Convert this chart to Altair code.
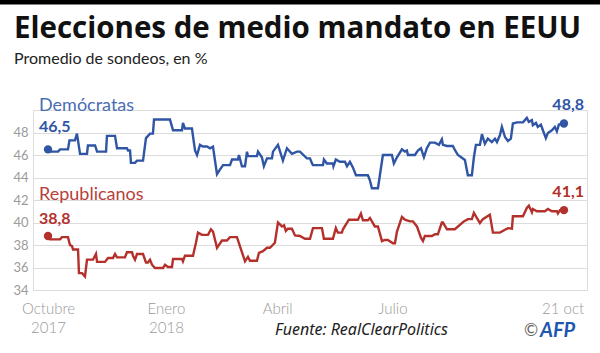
import altair as alt
import pandas as pd

# Days since the first poll (Octubre 2017 -> 21 oct 2018)
dem_day = [0, 1.5, 7.5, 9, 14.9, 16, 20.1, 21.6, 23.9, 29.1, 29.8, 35.1, 36.6, 43.3, 44, 50, 51.5,
           58.9, 59.7, 61.2, 61.9, 64.9, 66.4, 70.9, 73.1, 76.1, 78.3, 79.1, 91, 93.3, 100, 100.7,
           102.2, 107.4, 109.7, 111.2, 113.4, 115.6, 118.6, 120.9, 123.1, 126.1, 128.3, 130.6, 135.8,
           137.3, 141.7, 142.5, 144.7, 147, 148.5, 149.2, 155.9, 156.7, 159.6, 161.1, 163.4, 167.1,
           167.9, 171.6, 175.3, 178.3, 182, 185.8, 188, 193.2, 195.5, 197, 197.7, 205.2, 205.9,
           208.1, 212.6, 213, 214.8, 217.8, 221.6, 223.1, 225.3, 227.5, 229.8, 238.7, 240.2, 241.7,
           246.2, 249.9, 256.6, 258.1, 260.4, 264.1, 266.3, 267.8, 268.6, 273.8, 276, 278.3, 280.5,
           282.7, 285, 288.7, 291.7, 293.9, 294.7, 297.7, 302.1, 303.6, 305.9, 311.1, 313.3, 316.3,
           317.8, 319.3, 322.3, 323.8, 326, 328.2, 331.2, 333.5, 335, 337.2, 338.7, 341, 343.2,
           345.4, 346.9, 349.9, 354.4, 357.3, 358.8, 361.1, 361.8, 364.1, 365.5, 367.8, 369.3,
           371.5, 373, 376, 378.2, 379.7, 381.2, 385]
dem_val = [46.5, 46.3, 46.3, 46.5, 46.5, 47.3, 47.3, 47.9, 46.1, 46.1, 46.85, 46.85, 46.3, 46.3, 47.7,
           47.7, 46.6, 46.6, 46.4, 46.4, 45.3, 45.3, 45.5, 45.5, 47.5, 47.9, 47.9, 49.15, 49.15, 48.2,
           48.2, 48.85, 48.35, 48.35, 46.4, 46.0, 46.9, 46.75, 46.75, 46.6, 46.75, 44.3, 44.7, 45.1,
           45.1, 45.6, 45.6, 46.0, 45.0, 45.0, 46.3, 45.9, 45.9, 46.3, 45.8, 45.0, 45.7, 45.7, 46.3,
           46.9, 45.5, 46.6, 46.1, 46.3, 46.3, 45.7, 45.7, 45.25, 45.1, 45.1, 45.6, 45.25, 45.25,
           45.0, 45.6, 45.4, 45.4, 45.0, 45.4, 44.9, 44.2, 44.2, 43.75, 43.05, 43.05, 46.0, 46.0,
           45.25, 45.8, 46.5, 46.3, 46.4, 46.0, 46.0, 46.4, 46.6, 45.8, 46.6, 47.1, 47.1, 46.9, 47.4,
           46.9, 46.8, 46.8, 46.45, 46.0, 45.55, 44.2, 44.2, 45.8, 46.9, 46.9, 47.85, 47.0, 47.45,
           47.15, 47.45, 47.15, 47.75, 48.5, 47.6, 47.25, 47.45, 48.8, 48.9, 48.9, 49.3, 48.95,
           49.1, 48.65, 48.85, 48.5, 48.7, 48.2, 47.5, 47.95, 48.2, 48.5, 48.1, 48.7, 48.8]

rep_day = [0, 1.5, 9, 10.4, 14.9, 16.4, 17.9, 18.7, 22.4, 23.1, 25.4, 27.6, 29.1, 33.6, 35.8, 36.6,
           42.5, 44.8, 48.5, 50, 51.5, 57.4, 58.9, 62.7, 63.4, 64.9, 66.4, 70.9, 73.1, 74.6, 76.1,
           77.6, 79.8, 85.8, 87.3, 89.5, 92.5, 93.3, 100, 100.7, 102.2, 108.2, 110.4, 111.9, 114.9,
           119.4, 121.6, 123.1, 126.1, 129.8, 133.5, 135.8, 141, 143.2, 147, 149.2, 150.7, 155.9,
           157.4, 160.4, 163.4, 165.6, 169.3, 171.6, 174.6, 176.1, 177.5, 179, 182, 184.3, 188,
           191.7, 195.5, 197.7, 204.4, 205.9, 212.6, 214.8, 216.3, 219.3, 220.1, 224.5, 231.3,
           233.5, 235, 238.7, 240.2, 243.9, 246.2, 249.2, 251.4, 253.6, 257.4, 258.9, 260.4, 264.1,
           266.3, 270.1, 272.3, 275.3, 278.3, 279.8, 281.2, 286.5, 288.7, 290.9, 293.9, 294.7,
           297.7, 303.6, 310.3, 313.3, 316.3, 317.8, 322.3, 324.5, 329.7, 332, 337.2, 341, 343.2,
           346.2, 346.9, 354.4, 357.3, 358.8, 361.1, 361.8, 364.8, 370.8, 373, 376, 379.7, 380.5,
           382, 385]
rep_val = [38.8, 38.5, 38.5, 38.7, 38.7, 38.0, 37.9, 37.6, 37.6, 35.5, 35.5, 35.2, 36.7, 36.7, 37.2,
           36.5, 36.5, 36.85, 36.85, 37.2, 36.9, 36.9, 37.35, 37.35, 37.05, 36.7, 37.2, 37.2, 36.45,
           36.45, 36.7, 36.25, 35.95, 35.95, 36.25, 36.05, 36.05, 36.75, 36.75, 36.55, 37.05, 37.05,
           38.2, 39.1, 38.9, 38.9, 39.4, 39.2, 37.75, 38.4, 38.4, 38.7, 38.7, 37.9, 36.55, 36.95,
           36.6, 36.6, 37.3, 37.45, 37.75, 37.75, 38.2, 40.0, 39.65, 39.75, 39.25, 39.45, 39.45,
           38.85, 38.8, 38.55, 38.55, 39.5, 39.5, 38.55, 38.55, 39.5, 39.1, 39.1, 39.4, 40.25,
           40.25, 40.8, 40.2, 40.2, 40.4, 39.65, 39.65, 38.35, 38.45, 38.45, 38.15, 38.15, 39.2,
           40.5, 40.25, 40.1, 40.1, 39.65, 38.65, 38.35, 38.8, 38.8, 38.95, 38.95, 40.0, 40.0, 39.4,
           39.4, 40.1, 40.3, 40.3, 40.85, 39.95, 40.3, 40.7, 39.1, 39.1, 39.35, 39.5, 39.45, 40.55,
           40.55, 41.3, 41.5, 40.9, 41.2, 41.0, 41.0, 41.2, 41.0, 41.0, 40.8, 41.1, 41.1]

series_names = ["Demócratas", "Republicanos"]
series_colors = ["#2f55a4", "#b3302b"]
name_colors = ["#4a6db3", "#b8403a"]

tick_days = [0, 88, 171, 257, 384]
tick_labels = [["Octubre", "2017"], ["Enero", "2018"], ["Abril"], ["Julio"], ["21 oct"]]
y_ticks = [34, 36, 38, 40, 42, 44, 46, 48]

title_text = "Elecciones de medio mandato en EEUU"
subtitle_text = "Promedio de sondeos, en %"
source_text = "Fuente: RealClearPolitics"

FONT = "Lato"

df = pd.concat([
    pd.DataFrame({"day": dem_day, "val": dem_val, "serie": series_names[0]}),
    pd.DataFrame({"day": rep_day, "val": rep_val, "serie": series_names[1]}),
])

def fmt(v):
    return f"{v:.1f}".replace(".", ",")

ends = pd.DataFrame({
    "day": [dem_day[0], dem_day[-1], rep_day[0], rep_day[-1]],
    "val": [dem_val[0], dem_val[-1], rep_val[0], rep_val[-1]],
    "serie": [series_names[0], series_names[0], series_names[1], series_names[1]],
    "pos": ["start", "end", "start", "end"],
})
ends["label"] = ends["val"].map(fmt)
one = pd.DataFrame({"k": [0]})

label_expr = ""
for d, lab in zip(tick_days, tick_labels):
    arr = "[" + ",".join(f"'{s}'" for s in lab) + "]"
    label_expr += f"datum.value == {d} ? {arr} : "
label_expr += "''"

xscale = alt.Scale(domain=[-11.2, 402.2], nice=False, zero=False)
yscale = alt.Scale(domain=[34, 50], nice=False, zero=False)
cscale = alt.Scale(domain=series_names, range=series_colors)

xaxis = alt.Axis(
    values=tick_days, labelExpr=label_expr, grid=False, domain=False, ticks=False,
    labelFont=FONT, labelFontSize=15, labelColor="#999999", labelPadding=11,
    labelLineHeight=19, labelFontWeight=300, title=None, labelOverlap=False, labelFlush=False)
yaxis = alt.Axis(
    values=y_ticks, tickCount=8, grid=True, gridColor="#dcdcdc", gridWidth=1, domain=False,
    ticks=False, labelFont=FONT, labelFontSize=13, labelColor="#9a9a9a", labelPadding=5,
    title=None, labelOverlap=False, labelFlush=False)

def X():
    return alt.X("day:Q", scale=xscale, axis=xaxis)

def Y():
    return alt.Y("val:Q", scale=yscale, axis=yaxis)

lines = alt.Chart(df).mark_line(strokeWidth=2.4, interpolate="linear").encode(
    x=X(), y=Y(), color=alt.Color("serie:N", scale=cscale, legend=None), detail="serie:N")

dots = alt.Chart(ends).mark_point(filled=True, size=70, opacity=1).encode(
    x=X(), y=Y(), color=alt.Color("serie:N", scale=cscale, legend=None))

def value_label(serie, pos, align, dx, dy):
    return alt.Chart(ends).transform_filter(
        (alt.datum.serie == serie) & (alt.datum.pos == pos)
    ).mark_text(align=align, baseline="middle", dx=dx, dy=dy, font=FONT, fontSize=16,
                fontWeight="bold").encode(
        x=X(), y=Y(), text="label:N",
        color=alt.Color("serie:N", scale=cscale, legend=None))

def name_label(i, dy):
    return alt.Chart(ends).transform_filter(
        (alt.datum.serie == series_names[i]) & (alt.datum.pos == "start")
    ).mark_text(align="left", baseline="middle", dx=-9, dy=dy, font=FONT, fontSize=18,
                color=name_colors[i]).encode(x=X(), y=Y(), text="serie:N")

labels = [
    value_label(series_names[0], "start", "left", -9, -22),
    value_label(series_names[0], "end", "right", 20, -19),
    value_label(series_names[1], "start", "left", -9, -17),
    value_label(series_names[1], "end", "right", 20, -18),
    name_label(0, -43),
    name_label(1, -41),
]

def static_text(text, x, y, **kw):
    return alt.Chart(one).mark_text(align="left", baseline="alphabetic", **kw).encode(
        x=alt.value(x), y=alt.value(y), text=alt.value(text))

topbar = alt.Chart(one).mark_rule(color="black", strokeWidth=5).encode(
    x=alt.value(-40), x2=alt.value(600), y=alt.value(-108))

title = static_text(title_text, -19, -72, font="Open Sans", fontSize=29.5, fontWeight="bold",
                    color="#111111")
subtitle = static_text(subtitle_text, -19, -46, font=FONT, fontSize=16, color="#222222")
source = static_text(source_text, 242, 225, font="Noto Sans", fontSize=16,
                     fontStyle="italic", color="#222222")
copy = static_text("©", 491, 226, font=FONT, fontSize=17, color="#666666")
afp = static_text("AFP", 507, 227, font=FONT, fontSize=20, fontWeight="bold",
                  fontStyle="italic", color="#1f56b0")

chart = alt.layer(lines, dots, *labels, topbar, title, subtitle, source, copy, afp).properties(
    width=554, height=180,
    autosize=alt.AutoSizeParams(type="none"),
    padding={"left": 33, "top": 110, "right": 13, "bottom": 63},
).configure_view(stroke=None).configure(background="white")

chart.save("out.html", embed_options={"renderer": "svg", "actions": False})
